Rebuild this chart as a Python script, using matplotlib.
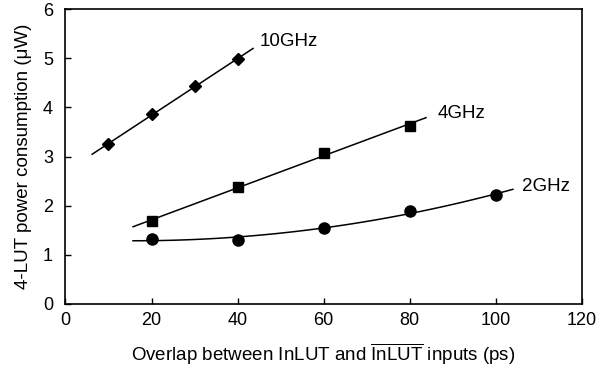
import matplotlib
matplotlib.use("Agg")
import matplotlib.pyplot as plt
import numpy as np

# values
x_10g = [10, 20, 30, 40]
y_10g = [3.25, 3.86, 4.43, 4.98]
x_4g = [20, 40, 60, 80]
y_4g = [1.68, 2.38, 3.08, 3.62]
x_2g = [20, 40, 60, 80, 100]
y_2g = [1.32, 1.30, 1.55, 1.90, 2.21]

plt.rcParams['font.family'] = ['Liberation Sans', 'DejaVu Sans']
plt.rcParams['mathtext.fontset'] = 'custom'
plt.rcParams['mathtext.rm'] = 'Liberation Sans'
plt.rcParams['mathtext.it'] = 'Liberation Sans:italic'
plt.rcParams['mathtext.bf'] = 'Liberation Sans:bold'

fig = plt.figure(figsize=(6.06, 3.68), dpi=100)
ax = fig.add_axes([0.108, 0.174, 0.852, 0.801])

# trendlines, extended a little beyond the data like a spreadsheet trendline
series = [
    (x_10g, y_10g, 'D', 6.5, 1, (6.2, 43.6), "10GHz", (45.2, 5.34)),
    (x_4g, y_4g, 's', 6.5, 1, (15.7, 83.8), "4GHz", (86.4, 3.88)),
    (x_2g, y_2g, 'o', 8, 2, (15.7, 104.0), "2GHz", (106.0, 2.40)),
]
for xs, ys, mk, ms, deg, (x0, x1), label, (lx, ly) in series:
    coef = np.polyfit(xs, ys, deg)
    xx = np.linspace(x0, x1, 100)
    ax.plot(xx, np.polyval(coef, xx), color='black', linewidth=1.1)
    ax.plot(xs, ys, linestyle='none', marker=mk, markersize=ms, color='black')
    ax.text(lx, ly, label, fontsize=13.5, ha='left', va='center')

ax.set_xlim(0, 120)
ax.set_ylim(0, 6)
ax.set_xticks(np.arange(0, 121, 20))
ax.set_yticks(np.arange(0, 7, 1))
ax.tick_params(direction='in', length=4, width=1, labelsize=13, pad=6)
ax.tick_params(axis='y', pad=9)
for s in ax.spines.values():
    s.set_linewidth(1.2)

ax.set_xlabel(r"Overlap between InLUT and $\overline{\mathrm{InLUT}}$ inputs (ps)",
              fontsize=13.5, labelpad=9)
ax.set_ylabel("4-LUT power consumption (μW)", fontsize=13.5, labelpad=8)

fig.savefig("out.png", dpi=100)
